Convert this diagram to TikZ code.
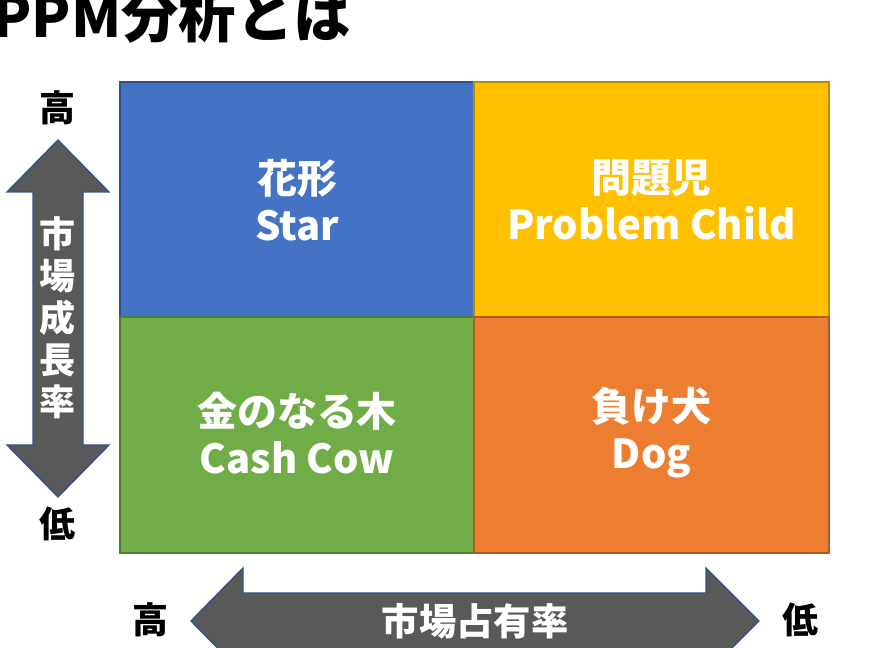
\documentclass[tikz,border=0pt]{standalone}
\usepackage{fontspec}
\setmainfont{Noto Sans CJK JP}
\usepackage{tikz}
\usetikzlibrary{positioning}

\definecolor{starblue}{HTML}{4472C4}
\definecolor{starline}{HTML}{2F528F}
\definecolor{childyellow}{HTML}{FFC000}
\definecolor{childline}{HTML}{BC8C00}
\definecolor{cowgreen}{HTML}{70AD47}
\definecolor{cowline}{HTML}{507E32}
\definecolor{dogorange}{HTML}{ED7D31}
\definecolor{dogline}{HTML}{AE5A21}
\definecolor{arrowgray}{HTML}{595959}

\begin{document}
\begin{tikzpicture}[x=0.75pt,y=-0.75pt,
  celltext/.style={text=white,align=center,font=\fontsize{30}{35}\selectfont\bfseries},
  axislabel/.style={font=\fontsize{27}{30}\selectfont\bfseries},
  axisarrow/.style={fill=arrowgray,draw=starline,line width=1pt}]
\useasboundingbox (0,0) rectangle (869,648);
\clip (0,0) rectangle (869,648);

\node [anchor=base east,inner sep=0,font=\fontsize{43}{43}\selectfont\bfseries] (title) at (351,38) {PPM分析とは};

% the four cells
\draw [fill=starblue,draw=starline,line width=1pt] (120,82) rectangle (474,317);
\draw [fill=childyellow,draw=childline,line width=1pt] (474,82) rectangle (829,317);
\draw [fill=cowgreen,draw=cowline,line width=1pt] (120,317) rectangle (474,553);
\draw [fill=dogorange,draw=dogline,line width=1pt] (474,317) rectangle (829,553);

\node [celltext] (star) at (297,200) {花形\\Star};
\node [celltext] (child) at (651.5,200) {問題児\\Problem Child};
\node [celltext] (cow) at (297,433) {金のなる木\\Cash Cow};
\node [celltext] (dog) at (651.5,433) {負け犬\\Dog};

% vertical axis
\draw [axisarrow] (58,140) -- (109,192) -- (83,192) -- (83,445) -- (109,445) -- (58,497)
  -- (7,445) -- (33,445) -- (33,192) -- (7,192) -- cycle;
\node [text=white,align=center,font=\fontsize{27}{31.5}\selectfont\bfseries] (growth) at (58,318) {市\\場\\成\\長\\率};
\node [axislabel] (ghigh) at (58,108) {高};
\node [axislabel] (glow) at (58,524) {低};

% horizontal axis
\draw [axisarrow] (191,621) -- (243,568) -- (243,593) -- (706,593) -- (706,568) -- (759,621)
  -- (706,674) -- (706,649) -- (243,649) -- (243,674) -- cycle;
\node [text=white,font=\fontsize{28}{30}\selectfont\bfseries] (share) at (475,621) {市場占有率};
\node [axislabel] (shigh) at (150,620) {高};
\node [axislabel] (slow) at (800,620) {低};
\end{tikzpicture}
\end{document}
